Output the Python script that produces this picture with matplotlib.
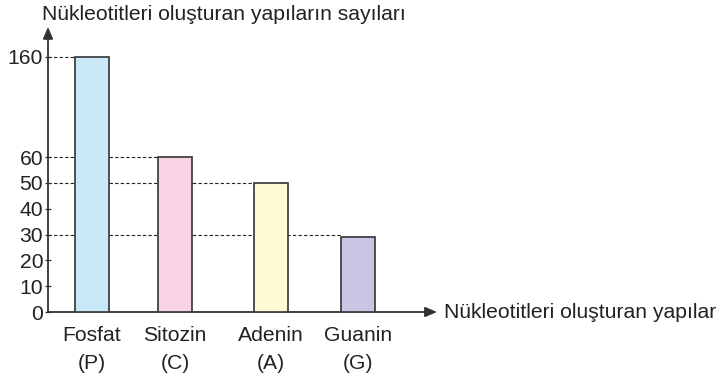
import numpy as np
import matplotlib
matplotlib.use("Agg")
import matplotlib.pyplot as plt
from matplotlib.patches import FancyArrowPatch

plt.rcParams['font.family'] = ['Liberation Sans', 'DejaVu Sans']

# Data
categories = ["Fosfat\n(P)", "Sitozin\n(C)", "Adenin\n(A)", "Guanin\n(G)"]
values = [160, 60, 50, 29]
guide_levels = [160, 60, 50, 30]
ytick_values = [0, 10, 20, 30, 40, 50, 60, 160]
y_title = "Nükleotitleri oluşturan yapıların sayıları"
x_title = "Nükleotitleri oluşturan yapılar"

# Layout
bar_x = [43.7, 127.0, 223.0, 310.0]
bar_w = 34
colors = ["#c9e9f8", "#f8d4e6", "#fffad6", "#c8c6e2"]
edge = "#333333"
text_color = "#222222"
FS = 15.2

# Broken-looking y scale: linear up to 60, compressed above
K = 0.389
def fwd(y):
    y = np.asarray(y, dtype=float)
    return np.where(y <= 60, y, 60 + (y - 60) * K)
def inv(t):
    t = np.asarray(t, dtype=float)
    return np.where(t <= 60, t, 60 + (t - 60) / K)

fig = plt.figure(figsize=(7.25, 3.79), dpi=100)
ax = fig.add_axes([48 / 725, 67 / 379, 382 / 725, 282 / 379])
ax.set_yscale('function', functions=(fwd, inv))
ax.set_xlim(0, 382)
ax.set_ylim(0, float(inv(109.3)))

# dashed guide lines from axis to bar
for lvl, x in zip(guide_levels, bar_x):
    ax.plot([0, x - bar_w / 2], [lvl, lvl], ls=(0, (3, 2)), lw=0.8,
            color=text_color, zorder=1)

ax.bar(bar_x, values, width=bar_w, color=colors, edgecolor=edge,
       linewidth=1.2, zorder=2)

for s in ["top", "right", "left", "bottom"]:
    ax.spines[s].set_visible(False)

ax.set_yticks(ytick_values)
ax.set_yticklabels([str(v) for v in ytick_values], fontsize=FS, color=text_color)
ax.tick_params(axis='y', direction='inout', length=5, width=0.9, color=edge, pad=1)
ax.set_xticks(bar_x)
ax.set_xticklabels(categories, fontsize=FS, color=text_color, linespacing=1.6)
ax.tick_params(axis='x', length=0, pad=10)

# axes with arrowheads
ax.add_patch(FancyArrowPatch((0, 0), (0, float(inv(110.5))), transform=ax.transData,
                             arrowstyle='-|>,head_length=7,head_width=3',
                             color=edge, lw=1.3, clip_on=False,
                             shrinkA=0, shrinkB=0, mutation_scale=1))
ax.add_patch(FancyArrowPatch((0, 0), (389, 0), transform=ax.transData,
                             arrowstyle='-|>,head_length=7,head_width=3',
                             color=edge, lw=1.3, clip_on=False,
                             shrinkA=0, shrinkB=0, mutation_scale=1))

fig.text(42 / 725, 1 - 14 / 379, y_title, fontsize=FS, color=text_color,
         ha='left', va='center')
fig.text(444 / 725, 1 - 312 / 379, x_title, fontsize=FS, color=text_color,
         ha='left', va='center')

fig.savefig("out.png", dpi=100)
